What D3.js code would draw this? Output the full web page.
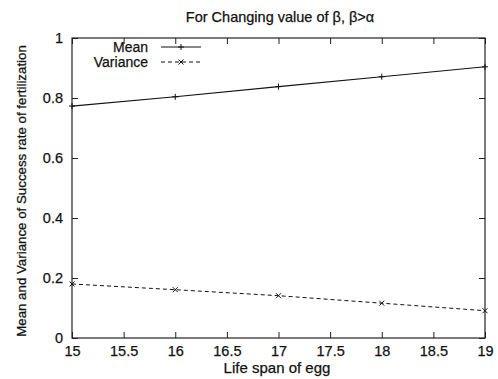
<!DOCTYPE html>
<html><head><meta charset="utf-8">
<script src="https://cdn.jsdelivr.net/npm/d3@7"></script>
<style>body{margin:0;background:#fff}svg{display:block}text{font-family:"Liberation Sans",Arial,sans-serif;stroke:#111;stroke-width:0.25px}</style>
</head><body><svg id="c" width="498" height="379"></svg>
<script>
const lifeSpan = [15, 16, 17, 18, 19];
const meanValues = [0.773, 0.804, 0.838, 0.871, 0.904];
const varianceValues = [0.180, 0.161, 0.141, 0.116, 0.091];
const xTicks = [15, 15.5, 16, 16.5, 17, 17.5, 18, 18.5, 19];
const yTicks = [0, 0.2, 0.4, 0.6, 0.8, 1];

const svg = d3.select("#c");
const L = 72, R = 485, T = 38, B = 338;
const x = d3.scaleLinear().domain([15, 19]).range([L, R]);
const y = d3.scaleLinear().domain([0, 1]).range([B, T]);
const tickFmt = d => d3.format("")(d);

const g = svg.append("g");
g.append("rect").attr("x", L).attr("y", T).attr("width", R - L).attr("height", B - T)
  .attr("fill", "none").attr("stroke", "#222").attr("stroke-width", 1.2);

const ax = (axis, tx, ty) => {
  const a = g.append("g").attr("transform", `translate(${tx},${ty})`).call(axis);
  a.select(".domain").remove();
  a.selectAll("line").attr("stroke", "#222");
  a.selectAll("text").attr("font-size", 14.5).attr("fill", "#111").attr("font-family", null);
  return a;
};
ax(d3.axisBottom(x).tickValues(xTicks).tickSize(-6).tickPadding(8).tickFormat(tickFmt), 0, B);
ax(d3.axisTop(x).tickValues(xTicks).tickSize(-6).tickFormat(""), 0, T);
ax(d3.axisLeft(y).tickValues(yTicks).tickSize(-6).tickPadding(9).tickFormat(tickFmt), L, 0);
ax(d3.axisRight(y).tickValues(yTicks).tickSize(-6).tickFormat(""), R, 0);

const line = d3.line().x((d, i) => x(lifeSpan[i])).y(d => y(d));
g.append("path").datum(meanValues).attr("d", line).attr("fill", "none").attr("stroke", "#111").attr("stroke-width", 1.1);
g.append("path").datum(varianceValues).attr("d", line).attr("fill", "none").attr("stroke", "#111").attr("stroke-width", 1).attr("stroke-dasharray", "4,3");

const plus = (cx, cy, s) => `M${cx - s},${cy}H${cx + s}M${cx},${cy - s}V${cy + s}`;
const cross = (cx, cy, s) => `M${cx - s},${cy - s}L${cx + s},${cy + s}M${cx - s},${cy + s}L${cx + s},${cy - s}`;
g.append("path").attr("d", meanValues.map((d, i) => plus(x(lifeSpan[i]), y(d), 3)).join(""))
  .attr("stroke", "#111").attr("stroke-width", 1);
g.append("path").attr("d", varianceValues.map((d, i) => cross(x(lifeSpan[i]), y(d), 2.5)).join(""))
  .attr("stroke", "#111").attr("stroke-width", 1);

const leg = [["Mean", false, 47], ["Variance", true, 62]];
leg.forEach(([name, dashed, ly]) => {
  g.append("text").attr("x", 148).attr("y", ly + 5).attr("text-anchor", "end").attr("font-size", 14).attr("fill", "#111").text(name);
  g.append("line").attr("x1", 161).attr("x2", 201).attr("y1", ly).attr("y2", ly).attr("stroke", "#111")
    .attr("stroke-dasharray", dashed ? "4,3" : null);
  g.append("path").attr("d", dashed ? cross(181, ly, 2.5) : plus(181, ly, 3)).attr("stroke", "#111");
});

svg.append("text").attr("x", 280).attr("y", 22).attr("text-anchor", "middle").attr("font-size", 14.5).attr("fill", "#111")
  .text("For Changing value of β, β>α");
svg.append("text").attr("x", 277).attr("y", 373).attr("text-anchor", "middle").attr("font-size", 15).attr("fill", "#111")
  .text("Life span of egg");
svg.append("text").attr("transform", `translate(26,191) rotate(-90)`).attr("text-anchor", "middle").attr("font-size", 13.3).attr("fill", "#111")
  .text("Mean and Variance of Success rate of fertilization");
</script></body></html>
